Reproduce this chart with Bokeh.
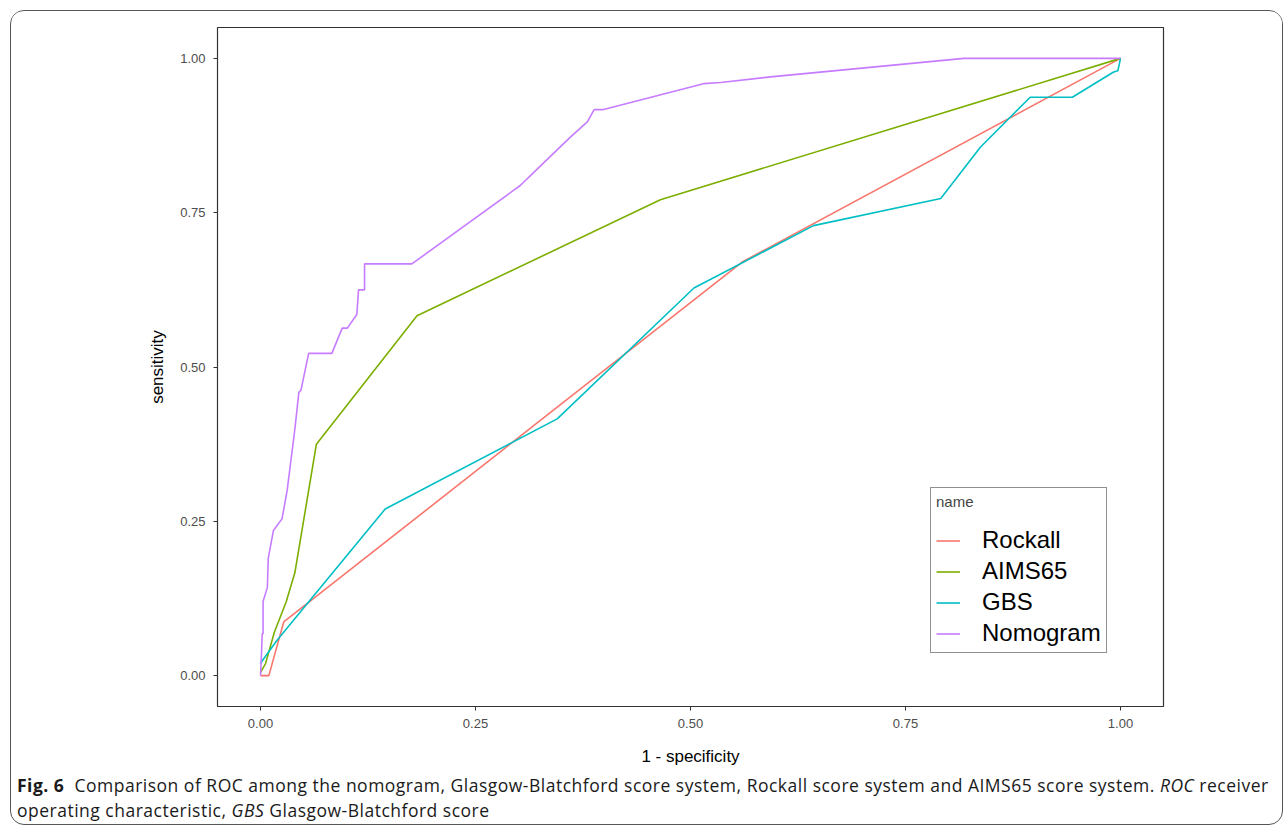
from bokeh.plotting import figure
from bokeh.models import Range1d, FixedTicker, Legend, LegendItem, Div
from bokeh.layouts import column
from bokeh.embed import file_html
from bokeh.resources import INLINE

# ---------------- data ----------------
series_names = ["Rockall", "AIMS65", "GBS", "Nomogram"]
series_colors = ["#F8766D", "#7CAE00", "#00BFC4", "#C77CFF"]

rockall_x = [0.0, 0.0097, 0.027, 0.56, 1.0]
rockall_y = [0.0, 0.0, 0.087, 0.67, 1.0]

aims65_x = [0.0, 0.006, 0.016, 0.030, 0.040, 0.065, 0.182, 0.465, 1.0]
aims65_y = [0.005, 0.02, 0.07, 0.12, 0.167, 0.375, 0.583, 0.771, 1.0]

gbs_x = [0.0, 0.019, 0.145, 0.345, 0.504, 0.643, 0.791, 0.837, 0.895, 0.944, 0.992, 0.997, 1.0]
gbs_y = [0.02, 0.057, 0.27, 0.416, 0.628, 0.729, 0.773, 0.856, 0.937, 0.937, 0.978, 0.980, 1.0]

nomogram_x = [0.0, 0.001, 0.002, 0.003, 0.003, 0.008, 0.009, 0.015, 0.025, 0.031, 0.040,
              0.0446, 0.047, 0.056, 0.083, 0.095, 0.101, 0.112, 0.114, 0.121, 0.121,
              0.176, 0.302, 0.322, 0.360, 0.380, 0.388, 0.399, 0.515, 0.535, 0.593,
              0.818, 1.0]
nomogram_y = [0.0, 0.03, 0.068, 0.068, 0.12, 0.143, 0.19, 0.235, 0.254, 0.30, 0.40,
              0.459, 0.462, 0.522, 0.522, 0.563, 0.563, 0.585, 0.625, 0.625, 0.667,
              0.667, 0.794, 0.821, 0.872, 0.897, 0.917, 0.917, 0.959, 0.961, 0.970,
              1.0, 1.0]

tick_values = [0.0, 0.25, 0.5, 0.75, 1.0]
tick_labels = ["0.00", "0.25", "0.50", "0.75", "1.00"]

x_title = "1 - specificity"
y_title = "sensitivity"
legend_title = "name"

# ---------------- figure ----------------
p = figure(width=1271, height=759, output_backend="svg", toolbar_location=None,
           x_range=Range1d(-0.05, 1.05), y_range=Range1d(-0.05, 1.05),
           min_border_left=206, min_border_right=119, min_border_top=16,
           min_border_bottom=64)
p.background_fill_color = "white"
p.border_fill_color = "white"
p.outline_line_color = "#333333"
p.outline_line_width = 1.2
p.xgrid.visible = False
p.ygrid.visible = False

for ax in (p.xaxis[0], p.yaxis[0]):
    ax.ticker = FixedTicker(ticks=tick_values)
    ax.major_label_overrides = {v: l for v, l in zip(tick_values, tick_labels)}
    ax.axis_line_color = None
    ax.major_tick_in = 0
    ax.major_tick_out = 4
    ax.major_tick_line_color = "#333333"
    ax.minor_tick_line_color = None
    ax.major_label_text_font = "Liberation Sans"
    ax.major_label_text_font_size = "13px"
    ax.major_label_text_color = "#4D4D4D"
    ax.axis_label_text_font = "Liberation Sans"
    ax.axis_label_text_font_size = "17px"
    ax.axis_label_text_font_style = "normal"
    ax.axis_label_text_color = "black"

p.xaxis.axis_label = x_title
p.yaxis.axis_label = y_title
p.xaxis.major_label_standoff = 8
p.xaxis.axis_label_standoff = 16
p.yaxis.major_label_standoff = 8
p.yaxis.axis_label_standoff = 10

xs = [rockall_x, aims65_x, gbs_x, nomogram_x]
ys = [rockall_y, aims65_y, gbs_y, nomogram_y]
items = []
for name, color, x, y in zip(series_names, series_colors, xs, ys):
    r = p.line(x, y, line_color=color, line_width=1.6)
    items.append(LegendItem(label=name, renderers=[r]))

legend = Legend(items=items, location=(713, 53), title=legend_title,
                title_text_font="Liberation Sans", title_text_font_size="15px",
                title_text_font_style="normal", title_standoff=16,
                label_text_font="Liberation Sans", label_text_font_size="24px",
                label_text_color="black", label_height=25, glyph_height=25,
                glyph_width=24, label_standoff=22, spacing=3, padding=5,
                margin=0, border_line_color="#222222", border_line_width=1.2,
                background_fill_color="white", background_fill_alpha=1.0)
p.add_layout(legend, "center")

caption = Div(
    text=('<b>Fig. 6</b>&nbsp; Comparison of ROC among the nomogram, Glasgow-Blatchford score '
          'system, Rockall score system and AIMS65 score system. <i>ROC</i> receiver<br>'
          'operating characteristic, <i>GBS</i> Glasgow-Blatchford score'),
    width=1268, height=53,
    styles={"font-family": "Open Sans", "font-size": "17.5px", "line-height": "25px",
            "letter-spacing": "0.5px", "color": "#1a1a1a", "white-space": "nowrap",
            "padding-left": "1px", "margin-top": "3px"})

layout = column(p, caption, width=1273, height=815, margin=(10, 0, 0, 10),
                styles={"border": "1px solid #555555", "border-radius": "14px",
                        "overflow": "hidden", "background": "white"})

open("out.html", "w").write(file_html(layout, INLINE))
